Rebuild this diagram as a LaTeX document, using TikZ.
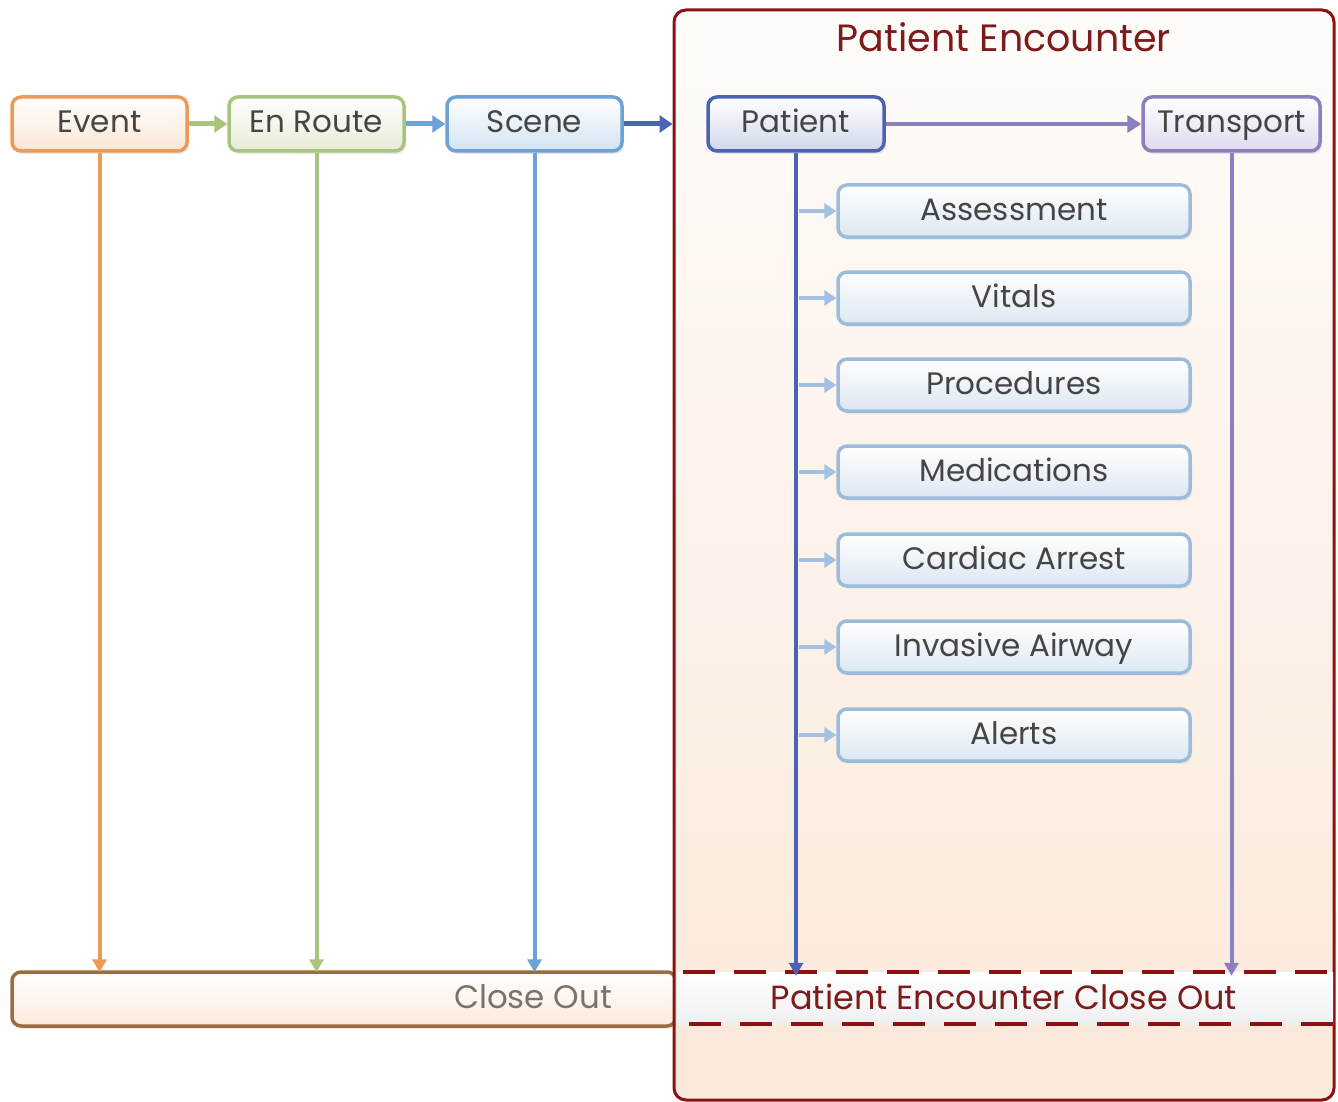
\documentclass[tikz,border=0pt]{standalone}
\usepackage{fontspec}
\setmainfont{Poppins}
\usetikzlibrary{arrows.meta,shadows,calc}
\definecolor{cEvent}{HTML}{EC9A57}
\definecolor{cRoute}{HTML}{A8C47E}
\definecolor{cScene}{HTML}{6CA2D6}
\definecolor{cPat}{HTML}{4B63B3}
\definecolor{cTrans}{HTML}{8D7FBF}
\definecolor{cSub}{HTML}{9DBCDA}
\definecolor{cSubArr}{HTML}{A3C2E2}
\definecolor{cFrame}{HTML}{8C1212}
\definecolor{cClose}{HTML}{9C6C3E}
\definecolor{cTxt}{HTML}{454545}
\definecolor{cRed}{HTML}{7C1B1B}
\definecolor{cCloseTxt}{HTML}{7B7269}
\tikzset{
  boxtext/.style={font=\fontsize{31}{36}\selectfont, text=cTxt, text height=24pt, text depth=6pt},
  stagebox/.style={boxtext, rounded corners=9pt, line width=3.5pt, minimum height=54pt, minimum width=175pt, inner sep=0pt,
     drop shadow={shadow xshift=2pt, shadow yshift=-3pt, fill=black!18}},
  subbox/.style={boxtext, rounded corners=9pt, line width=3.5pt, draw=cSub, top color=white, bottom color=cSub!35,
     minimum height=52pt, minimum width=352pt, inner sep=0pt,
     drop shadow={shadow xshift=2pt, shadow yshift=-3pt, fill=black!14}},
  flow/.style={line width=4pt, -{Triangle[width=14pt,length=13pt]}},
  hflow/.style={line width=5pt, -{Triangle[width=17pt,length=13pt]}},
  subarrow/.style={line width=4pt, draw=cSubArr, -{Triangle[width=15pt,length=12pt]}},
  dashline/.style={line width=4pt, draw=cFrame, dash pattern=on 32pt off 19pt}
}
\begin{document}
\begin{tikzpicture}[x=1pt,y=-1pt]
\useasboundingbox (0,0) rectangle (1338,1102);
% Close Out bar (drawn first so the frame edge lies over its end)
\node[draw=cClose, line width=3.5pt, rounded corners=9pt, top color=white, bottom color=cEvent!20,
      minimum width=664pt, minimum height=54pt, inner sep=0pt,
      drop shadow={shadow xshift=2pt, shadow yshift=-3pt, fill=black!14}] (closeout) at (344,999) {};
\node[font=\fontsize{32.5}{38}\selectfont, text=cCloseTxt] (closetext) at (533,997) {Close Out};

% outer Patient Encounter frame
\node[draw=cFrame, line width=3pt, rounded corners=12pt, top color=white!60!cEvent!8, bottom color=cEvent!22,
      minimum width=660pt, minimum height=1090pt, inner sep=0pt] (frame) at (1004,555) {};
\node[font=\fontsize{38}{44}\selectfont, text=cRed] (title) at (1004,37) {Patient Encounter};

% Patient Encounter Close Out band
\node[top color=white, bottom color=black!6, minimum width=656pt, minimum height=52pt, inner sep=0pt] (pecloseout) at (1005,998) {};
\draw[dashline] ([xshift=6pt]pecloseout.north west) -- (pecloseout.north east);
\draw[dashline] ([xshift=12pt]pecloseout.south west) -- (pecloseout.south east);
\node[font=\fontsize{33.5}{40}\selectfont, text=cRed] (petext) at (1004,997) {Patient Encounter Close Out};

% stage boxes
\node[stagebox, draw=cEvent, top color=white, bottom color=cEvent!25] (event) at (99.5,124) {Event};
\node[stagebox, draw=cRoute, top color=white, bottom color=cRoute!30] (enroute) at (316.5,124) {En Route};
\node[stagebox, draw=cScene, top color=white, bottom color=cScene!30] (scene) at (534.5,124) {Scene};
\node[stagebox, draw=cPat, top color=white, bottom color=cPat!25, minimum width=176pt] (patient) at (796,124) {Patient};
\node[stagebox, draw=cTrans, top color=white, bottom color=cTrans!28, minimum width=177pt] (transport) at (1231.5,124) {Transport};

% sub boxes
\node[subbox] (s1) at (1014,211) {Assessment};
\node[subbox] (s2) at (1014,298) {Vitals};
\node[subbox] (s3) at (1014,385) {Procedures};
\node[subbox] (s4) at (1014,472) {Medications};
\node[subbox] (s5) at (1014,560) {Cardiac Arrest};
\node[subbox] (s6) at (1014,647) {Invasive Airway};
\node[subbox] (s7) at (1014,735) {Alerts};

% horizontal flow arrows
\draw[hflow, cRoute] (event.east) -- (enroute.west);
\draw[hflow, cScene] (enroute.east) -- (scene.west);
\draw[hflow, cPat] (scene.east) -- (scene.east -| frame.west);
\draw[line width=4pt, cTrans, -{Triangle[width=17pt,length=14pt]}] (patient.east) -- (transport.west);

% vertical arrows
\draw[flow, cEvent] (event.south) -- ([yshift=-2pt]event.south |- closeout.north);
\draw[flow, cRoute] (enroute.south) -- ([yshift=-2pt]enroute.south |- closeout.north);
\draw[flow, cScene] (scene.south) -- ([yshift=-2pt]scene.south |- closeout.north);
\draw[flow, cPat, line width=4.5pt] (patient.south) -- ([yshift=-4pt]patient.south |- pecloseout.north);
\draw[flow, cTrans] (transport.south) -- ([yshift=-4pt]transport.south |- pecloseout.north);

% sub arrows
\foreach \s in {s1,s2,s3,s4,s5,s6,s7}{
  \draw[subarrow] ([xshift=3pt]patient.south |- \s.west) -- (\s.west);
}
\end{tikzpicture}
\end{document}
